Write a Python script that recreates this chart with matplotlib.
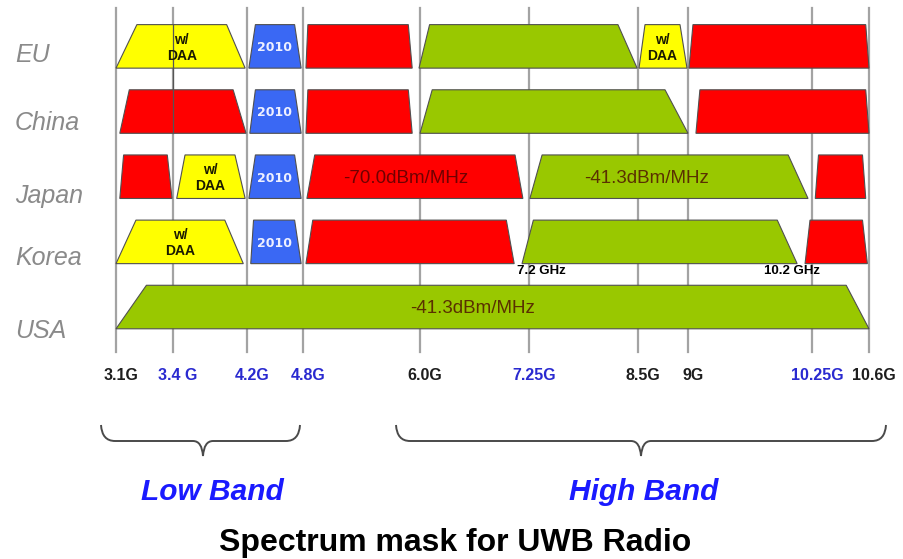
import numpy as np
import matplotlib.pyplot as plt
from matplotlib.patches import Polygon, PathPatch
from matplotlib.path import Path

plt.rcParams['font.family'] = ['Liberation Sans', 'DejaVu Sans']

# frequency axis (GHz)
freq_ticks = [3.1, 3.4, 4.2, 4.8, 6.0, 7.25, 8.5, 9.0, 10.25, 10.6]
tick_labels = ['3.1G', '3.4 G', '4.2G', '4.8G', '6.0G', '7.25G', '8.5G', '9G', '10.25G', '10.6G']
tick_blue = [False, True, True, True, False, True, False, False, True, False]
# the picture's axis is not linear: relative spacing of the ticks
tick_spacing = [0, 57, 131, 187, 304, 413, 522, 572, 696, 753]

regions = ['EU', 'China', 'Japan', 'Korea', 'USA']

# bands: (bottom-left, top-left, top-right, bottom-right) in GHz
eu_bands = [(3.10, 3.21, 3.98, 4.18), (4.22, 4.29, 4.71, 4.78), (4.83, 4.85, 5.88, 5.92),
            (5.99, 6.11, 8.27, 8.49), (8.51, 8.57, 8.92, 8.99), (9.01, 9.05, 10.58, 10.60)]
eu_kinds = ['daa', 'y2010', 'red', 'green', 'daa', 'red']

china_bands = [(3.12, 3.17, 4.05, 4.19), (4.23, 4.29, 4.71, 4.78), (4.83, 4.85, 5.88, 5.92),
               (6.00, 6.14, 8.77, 9.00), (9.08, 9.12, 10.58, 10.60)]
china_kinds = ['red', 'y2010', 'red', 'green', 'red']

japan_bands = [(3.12, 3.14, 3.37, 3.395), (3.44, 3.53, 4.07, 4.18), (4.22, 4.29, 4.71, 4.78),
               (4.84, 4.92, 7.09, 7.18), (7.26, 7.40, 10.01, 10.21), (10.27, 10.29, 10.56, 10.58)]
japan_kinds = ['red', 'daa', 'y2010', 'red', 'green', 'red']

korea_bands = [(3.10, 3.205, 3.96, 4.16), (4.24, 4.27, 4.71, 4.78), (4.83, 4.90, 6.99, 7.08),
               (7.17, 7.30, 9.90, 10.10), (10.18, 10.23, 10.56, 10.59)]
korea_kinds = ['daa', 'y2010', 'red', 'green', 'red']

usa_bands = [(3.10, 3.26, 10.46, 10.60)]
usa_kinds = ['green']

all_bands = [eu_bands, china_bands, japan_bands, korea_bands, usa_bands]
all_kinds = [eu_kinds, china_kinds, japan_kinds, korea_kinds, usa_kinds]

# power limit notes: (row, GHz, text)
notes = [(2, 5.85, '-70.0dBm/MHz'), (2, 8.59, '-41.3dBm/MHz'), (4, 6.60, '-41.3dBm/MHz')]

fill = {'daa': '#ffff00', 'y2010': '#3a68f4', 'red': '#ff0000', 'green': '#99c800'}
note_color = {'red': '#700000', 'green': '#5a3000'}


def fwd(x):
    return np.interp(x, freq_ticks, tick_spacing)


def inv(p):
    return np.interp(p, tick_spacing, freq_ticks)


fig = plt.figure(figsize=(9.04, 5.59), dpi=100)
W, H = 904, 559
ax = fig.add_axes([116 / W, 1 - 352 / H, (869 - 116) / W, (352 - 8) / H])
ax.set_xscale('function', functions=(fwd, inv))
ax.set_xlim(3.1, 10.6)
ax.set_ylim(4.69, -0.589)
ax.axis('off')

half = 0.334
for f in freq_ticks:
    ax.axvline(f, color='#a3a3a3', lw=1.6, zorder=0, clip_on=False)
ax.plot([3.4, 3.4], [-half, 1 + half], color='#555555', lw=0.9, zorder=4)

for i, (bands, kinds) in enumerate(zip(all_bands, all_kinds)):
    for (bl, tl, tr, br), kind in zip(bands, kinds):
        poly = Polygon([(bl, i + half), (tl, i - half), (tr, i - half), (br, i + half)],
                       closed=True, facecolor=fill[kind], edgecolor='#505050',
                       lw=0.8, zorder=2, clip_on=False)
        ax.add_patch(poly)
        xc = inv((fwd(tl) + fwd(tr)) / 2)
        if kind == 'daa':
            ax.text(xc, i + 0.02, 'w/\nDAA', ha='center', va='center', fontsize=10,
                    fontweight='bold', color='#1a1a00', linespacing=1.15, zorder=5)
        elif kind == 'y2010':
            ax.text(xc, i + 0.02, '2010', ha='center', va='center', fontsize=9,
                    fontweight='bold', color='#eef0ff', family='DejaVu Sans', zorder=5)

for row, f, txt in notes:
    kind = 'red' if txt.startswith('-70') else 'green'
    ax.text(f, row + 0.03, txt, ha='center', va='center', fontsize=13.5,
            color=note_color[kind], zorder=5)

ax.text(7.11, 3.45, '7.2 GHz', ha='left', va='center', fontsize=9.5,
        fontweight='bold', zorder=5)
ax.text(10.30, 3.45, '10.2 GHz', ha='right', va='center', fontsize=9.5,
        fontweight='bold', zorder=5)

for f, lab, blue in zip(freq_ticks, tick_labels, tick_blue):
    ax.annotate(lab, xy=(f, 0), xycoords=('data', 'axes fraction'),
                xytext=(5, -24), textcoords='offset pixels', ha='center', va='center',
                fontsize=11.5, fontweight='bold',
                color='#2a2ad0' if blue else '#1e1e1e', annotation_clip=False)

# overlay in pixel units for labels, braces and captions
ov = fig.add_axes([0, 0, 1, 1], zorder=-1)
ov.set_xlim(0, W)
ov.set_ylim(H, 0)
ov.axis('off')

label_base = [62, 130, 203, 265, 338]
for name, yb in zip(regions, label_base):
    ov.text(15, yb, name, ha='left', va='baseline', fontsize=18, style='italic',
            color='#8a8a8a')


def brace(x0, x1, xc, ytop, ymid, ytip):
    verts = [(x0, ytop), (x0 + 1, ymid), (x0 + 14, ymid),
             (xc - 10, ymid), (xc - 1, ymid), (xc, ytip),
             (xc + 1, ymid), (xc + 10, ymid),
             (x1 - 14, ymid), (x1 - 1, ymid), (x1, ytop)]
    codes = [Path.MOVETO, Path.CURVE3, Path.CURVE3, Path.LINETO, Path.CURVE3, Path.CURVE3,
             Path.CURVE3, Path.CURVE3, Path.LINETO, Path.CURVE3, Path.CURVE3]
    ov.add_patch(PathPatch(Path(verts, codes), facecolor='none', edgecolor='#4a4a4a', lw=1.4))


brace(101, 300, 203, 425, 441, 456)
brace(396, 886, 641, 425, 441, 456)

ov.text(212, 500, 'Low Band', ha='center', va='baseline', fontsize=21.5,
        fontweight='bold', style='italic', color='#1a1aff')
ov.text(644, 500, 'High Band', ha='center', va='baseline', fontsize=21.5,
        fontweight='bold', style='italic', color='#1a1aff')
ov.text(455, 551, 'Spectrum mask for UWB Radio', ha='center', va='baseline',
        fontsize=23, fontweight='bold', color='black')

fig.savefig('out.png', dpi=100)
